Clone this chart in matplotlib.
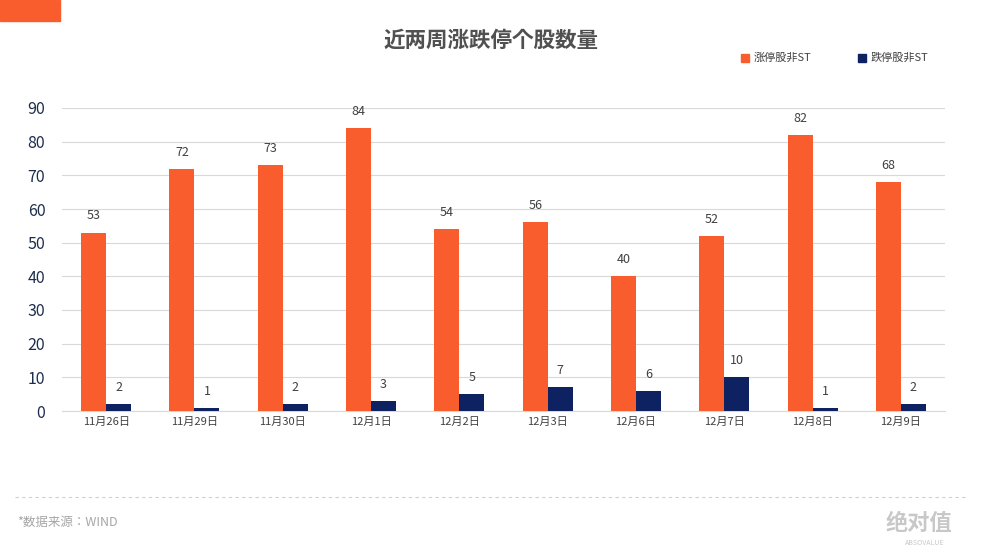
import matplotlib
matplotlib.use("Agg")
import matplotlib.pyplot as plt
import numpy as np
from matplotlib.patches import Rectangle
from matplotlib.lines import Line2D
from matplotlib import font_manager

cands = ["Noto Sans CJK SC", "Noto Sans CJK JP", "Noto Sans CJK TC", "Noto Sans CJK KR"]
avail = {f.name for f in font_manager.fontManager.ttflist}
cjk = [c for c in cands if c in avail]
if not cjk:
    for f in font_manager.findSystemFonts():
        if "CJK" in f:
            font_manager.fontManager.addfont(f)
    avail = {f.name for f in font_manager.fontManager.ttflist}
    cjk = [c for c in avail if "CJK" in c]
plt.rcParams["font.family"] = "sans-serif"
plt.rcParams["font.sans-serif"] = cjk + ["DejaVu Sans"]

categories = ["11月26日", "11月29日", "11月30日", "12月1日", "12月2日", "12月3日", "12月6日", "12月7日", "12月8日", "12月9日"]
limit_up = [53, 72, 73, 84, 54, 56, 40, 52, 82, 68]
limit_down = [2, 1, 2, 3, 5, 7, 6, 10, 1, 2]
series_names = ["涨停股非ST", "跌停股非ST"]
yticks = [0, 10, 20, 30, 40, 50, 60, 70, 80, 90]

W, H = 989, 558
fig = plt.figure(figsize=(W/100, H/100), dpi=100)
ax = fig.add_axes([62/W, 1-411/H, 883/W, 303/H])

orange = "#F95D2E"
navy = "#0E2160"
x = np.arange(len(categories))
bw = 0.283
ax.bar(x - bw/2, limit_up, bw, color=orange, zorder=3)
ax.bar(x + bw/2, limit_down, bw, color=navy, zorder=3)
for xi, v in zip(x, limit_up):
    ax.text(xi - bw/2, v + 3, str(v), ha="center", va="bottom", fontsize=9, color="#404040")
for xi, v in zip(x, limit_down):
    ax.text(xi + bw/2, v + 3, str(v), ha="center", va="bottom", fontsize=9, color="#404040")

ax.set_xlim(-0.5, len(categories) - 0.5)
ax.set_ylim(0, 90)
ax.set_yticks(yticks)
ax.set_yticklabels([str(t) for t in yticks], fontsize=11.5, color="#1F2D4D")
ax.set_xticks(x)
ax.set_xticklabels(categories, fontsize=8, color="#404040")
ax.yaxis.grid(True, color="#D9D9D9", linewidth=0.8, zorder=0)
for s in ["top", "right", "left"]:
    ax.spines[s].set_visible(False)
ax.spines["bottom"].set_color("#D9D9D9")
ax.tick_params(axis="both", length=0)
ax.tick_params(axis="x", pad=4)
ax.tick_params(axis="y", pad=12)

fig.text(491/W, 1-40/H, "近两周涨跌停个股数量", ha="center", va="center", fontsize=15.5, fontweight="bold", color="#505050")
fig.patches.append(Rectangle((741/W, 1-62/H), 8/W, 8/H, transform=fig.transFigure, color=orange))
fig.text(754/W, 1-58/H, series_names[0], va="center", fontsize=8, color="#404040")
fig.patches.append(Rectangle((858/W, 1-62/H), 8/W, 8/H, transform=fig.transFigure, color=navy))
fig.text(871/W, 1-58/H, series_names[1], va="center", fontsize=8, color="#404040")

fig.patches.append(Rectangle((0, 1-21/H), 60/W, 21/H, transform=fig.transFigure, color=orange))
fig.lines.append(Line2D([15/W, 965/W], [1-497/H, 1-497/H], transform=fig.transFigure, color="#D0D0D0", linestyle=(0, (3, 3)), linewidth=0.8))
fig.text(17/W, 1-522/H, "*数据来源：WIND", va="center", fontsize=9, color="#A6A6A6")
fig.text(885/W, 1-524/H, "绝对值", va="center", fontsize=16, fontweight="bold", color="#C8C8C8")
fig.text(925/W, 1-543/H, "ABSOVALUE", ha="center", va="center", fontsize=5, color="#C8C8C8")

fig.savefig("out.png", dpi=100)
